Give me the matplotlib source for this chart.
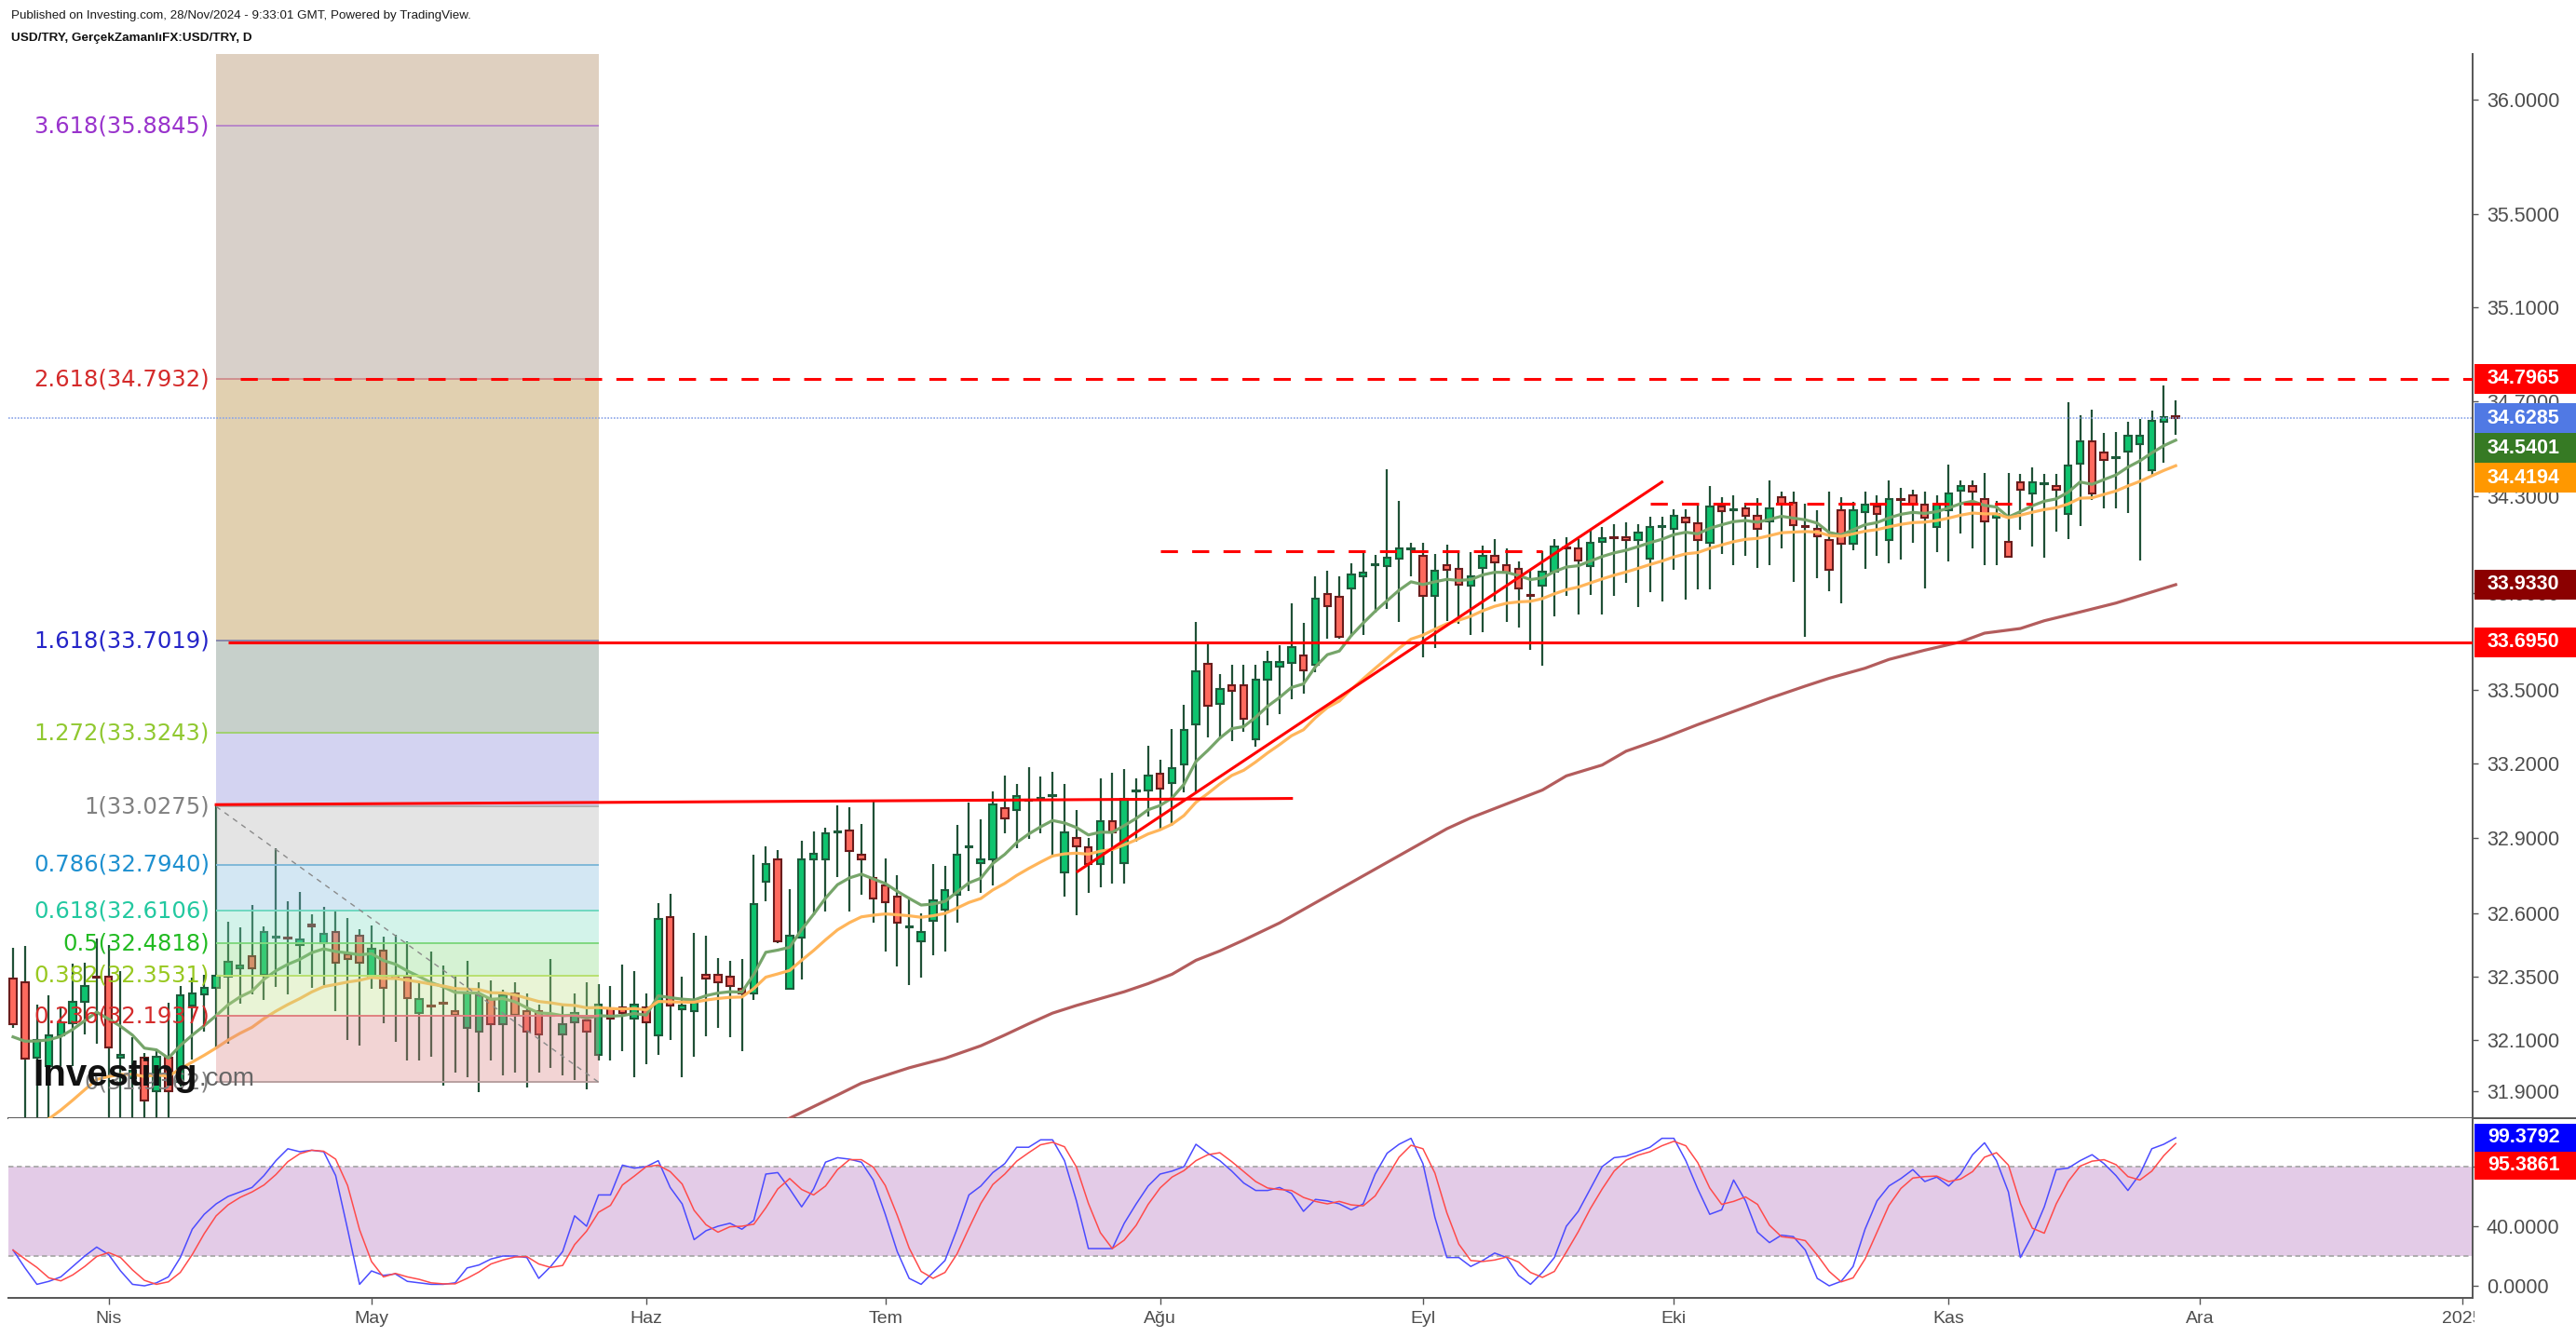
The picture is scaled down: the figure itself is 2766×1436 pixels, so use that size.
import matplotlib
matplotlib.use("Agg")
import matplotlib.pyplot as plt
import numpy as np
import pandas as pd
from matplotlib.patches import Rectangle
from matplotlib.lines import Line2D
from matplotlib.colors import to_rgb
from matplotlib.ticker import FixedLocator, NullLocator, NullFormatter, FormatStrFormatter

plt.rcParams['font.family'] = ['Liberation Sans', 'DejaVu Sans']

W, H = 2766, 1436

# USD/TRY daily bars, one per weekday, 20 Mar 2024 .. 28 Nov 2024
opens = [
    32.342, 32.327, 32.03, 31.999, 32.12, 32.165, 32.252, 32.35, 32.348, 32.03,
    31.95, 32.03, 31.90, 32.03, 31.937, 32.236, 32.28, 32.305, 32.348, 32.384,
    32.431, 32.357, 32.505, 32.503, 32.474, 32.554, 32.48, 32.527, 32.439, 32.513,
    32.348, 32.452, 32.354, 32.348, 32.206, 32.235, 32.247, 32.214, 32.147, 32.134,
    32.26, 32.163, 32.282, 32.214, 32.214, 32.198, 32.124, 32.171, 32.177, 32.044,
    32.223, 32.23, 32.184, 32.23, 32.118, 32.587, 32.221, 32.214, 32.356, 32.356,
    32.35, 32.303, 32.282, 32.727, 32.816, 32.303, 32.505, 32.816, 32.816, 32.925,
    32.932, 32.833, 32.742, 32.713, 32.667, 32.543, 32.489, 32.572, 32.615, 32.673,
    32.864, 32.801, 32.816, 33.019, 33.012, 33.051, 33.057, 33.069, 32.764, 32.9,
    32.862, 32.795, 32.968, 32.801, 33.09, 33.092, 33.161, 33.123, 33.198, 33.361,
    33.608, 33.444, 33.519, 33.519, 33.301, 33.543, 33.595, 33.61, 33.642, 33.604,
    33.896, 33.882, 33.918, 33.967, 34.012, 34.011, 34.042, 34.08, 34.052, 33.888,
    34.014, 33.997, 33.927, 34.004, 34.052, 34.014, 33.997, 33.892, 33.927, 33.988,
    34.086, 34.082, 34.011, 34.11, 34.129, 34.129, 34.119, 34.042, 34.172, 34.165,
    34.213, 34.188, 34.107, 34.259, 34.244, 34.25, 34.218, 34.194, 34.296, 34.273,
    34.178, 34.163, 34.118, 34.244, 34.101, 34.233, 34.259, 34.117, 34.289, 34.305,
    34.266, 34.172, 34.241, 34.325, 34.344, 34.289, 34.211, 34.11, 34.358, 34.311,
    34.352, 34.344, 34.227, 34.436, 34.532, 34.484, 34.462, 34.489, 34.52, 34.41,
    34.614, 34.637]
highs = [
    32.462, 32.471, 32.24, 32.276, 32.233, 32.40, 32.404, 32.499, 32.474, 32.371,
    32.112, 32.05, 32.063, 32.245, 32.313, 32.344, 32.357, 33.036, 32.566, 32.544,
    32.632, 32.55, 32.86, 32.647, 32.684, 32.597, 32.625, 32.61, 32.581, 32.536,
    32.552, 32.507, 32.515, 32.49, 32.322, 32.447, 32.393, 32.35, 32.41, 32.329,
    32.335, 32.298, 32.329, 32.282, 32.239, 32.418, 32.239, 32.282, 32.328, 32.319,
    32.313, 32.396, 32.372, 32.285, 32.64, 32.677, 32.35, 32.521, 32.513, 32.424,
    32.41, 32.418, 32.834, 32.869, 32.854, 32.698, 32.891, 32.928, 32.943, 33.033,
    33.026, 32.959, 33.053, 32.819, 32.751, 32.661, 32.601, 32.798, 32.789, 32.953,
    33.043, 32.976, 33.087, 33.154, 33.117, 33.186, 33.148, 33.168, 33.117, 33.012,
    32.901, 33.14, 33.162, 33.177, 33.14, 33.274, 33.217, 33.341, 33.438, 33.78,
    33.693, 33.565, 33.603, 33.603, 33.603, 33.661, 33.684, 33.854, 33.777, 33.969,
    33.991, 33.969, 34.023, 34.069, 34.055, 34.415, 34.283, 34.106, 34.106, 34.061,
    34.10, 34.075, 34.068, 34.093, 34.123, 34.084, 34.031, 33.995, 34.072, 34.123,
    34.129, 34.123, 34.161, 34.174, 34.183, 34.191, 34.183, 34.215, 34.215, 34.245,
    34.245, 34.267, 34.345, 34.298, 34.306, 34.273, 34.292, 34.367, 34.321, 34.321,
    34.27, 34.244, 34.321, 34.298, 34.276, 34.321, 34.306, 34.367, 34.337, 34.328,
    34.321, 34.306, 34.432, 34.367, 34.367, 34.399, 34.283, 34.399, 34.393, 34.423,
    34.393, 34.393, 34.695, 34.643, 34.665, 34.565, 34.572, 34.612, 34.627, 34.659,
    34.768, 34.706]
lows = [
    32.147, 31.78, 31.78, 31.78, 32.0, 32.0, 32.122, 32.085, 31.78, 31.78,
    31.78, 31.78, 31.78, 31.78, 31.92, 32.023, 32.134, 32.073, 32.087, 32.242,
    32.28, 32.258, 32.31, 32.28, 32.359, 32.307, 32.317, 32.215, 32.10, 32.079,
    32.301, 32.168, 32.094, 32.021, 32.021, 32.036, 31.924, 31.974, 31.954, 31.896,
    32.019, 31.961, 31.974, 31.917, 31.974, 31.991, 31.961, 31.945, 31.908, 32.02,
    32.019, 32.056, 31.954, 32.005, 32.042, 32.101, 31.954, 32.035, 32.116, 32.147,
    32.11, 32.056, 32.258, 32.649, 32.48, 32.303, 32.338, 32.591, 32.606, 32.745,
    32.606, 32.673, 32.562, 32.45, 32.39, 32.315, 32.347, 32.435, 32.45, 32.562,
    32.688, 32.68, 32.711, 32.92, 32.86, 32.897, 32.92, 32.823, 32.667, 32.593,
    32.68, 32.702, 32.717, 32.717, 32.888, 32.987, 32.934, 32.951, 33.084, 33.084,
    33.307, 33.299, 33.292, 33.33, 33.268, 33.356, 33.402, 33.463, 33.486, 33.572,
    33.71, 33.71, 33.717, 33.726, 33.818, 33.832, 33.779, 33.967, 33.632, 33.67,
    33.783, 33.77, 33.726, 33.738, 33.863, 33.779, 33.755, 33.664, 33.601, 33.802,
    33.886, 33.809, 33.892, 33.809, 33.886, 33.94, 33.841, 33.901, 33.864, 33.995,
    33.87, 33.913, 33.913, 34.059, 34.013, 34.052, 34.004, 34.013, 34.084, 33.943,
    33.718, 33.958, 33.904, 33.857, 34.075, 33.997, 34.053, 34.021, 34.036, 34.107,
    33.919, 34.069, 34.03, 34.146, 34.084, 34.013, 34.013, 34.047, 34.159, 34.091,
    34.043, 34.153, 34.123, 34.176, 34.286, 34.252, 34.252, 34.229, 34.033, 34.392,
    34.44, 34.558]
closes = [
    32.164, 32.028, 32.10, 32.12, 32.169, 32.252, 32.311, 32.346, 32.073, 32.042,
    31.98, 31.865, 32.036, 31.90, 32.276, 32.283, 32.305, 32.354, 32.408, 32.394,
    32.384, 32.526, 32.507, 32.50, 32.496, 32.55, 32.52, 32.406, 32.421, 32.406,
    32.459, 32.304, 32.341, 32.266, 32.26, 32.231, 32.243, 32.20, 32.282, 32.276,
    32.163, 32.276, 32.20, 32.134, 32.124, 32.195, 32.163, 32.208, 32.134, 32.239,
    32.184, 32.206, 32.239, 32.171, 32.579, 32.237, 32.237, 32.245, 32.342, 32.326,
    32.311, 32.282, 32.638, 32.795, 32.489, 32.511, 32.816, 32.838, 32.918, 32.929,
    32.849, 32.816, 32.661, 32.646, 32.564, 32.547, 32.527, 32.652, 32.691, 32.833,
    32.868, 32.816, 33.034, 32.98, 33.071, 33.055, 33.061, 33.073, 32.922, 32.869,
    32.795, 32.968, 32.922, 33.059, 33.094, 33.154, 33.10, 33.183, 33.338, 33.578,
    33.435, 33.503, 33.496, 33.384, 33.541, 33.613, 33.613, 33.674, 33.582, 33.876,
    33.843, 33.719, 33.976, 33.982, 34.016, 34.043, 34.082, 34.084, 33.888, 33.991,
    33.995, 33.933, 33.967, 34.052, 34.027, 33.982, 33.918, 33.888, 33.988, 34.091,
    34.082, 34.033, 34.106, 34.127, 34.125, 34.119, 34.151, 34.174, 34.176, 34.219,
    34.19, 34.117, 34.259, 34.24, 34.248, 34.218, 34.163, 34.25, 34.27, 34.179,
    34.174, 34.133, 33.993, 34.101, 34.244, 34.266, 34.227, 34.289, 34.285, 34.266,
    34.211, 34.266, 34.312, 34.344, 34.319, 34.194, 34.227, 34.047, 34.328, 34.358,
    34.356, 34.328, 34.429, 34.532, 34.311, 34.451, 34.466, 34.554, 34.554, 34.618,
    34.633, 34.6285]

# Stoch RSI %K of the lower pane (one value per bar)
stoch_k = [
    24, 12, 1, 3, 6, 13, 20, 26, 21, 10,
    1, 0, 2, 6, 19, 38, 48, 55, 60, 63,
    66, 74, 84, 92, 90, 91, 90, 74, 38, 1,
    10, 7, 8, 3, 2, 1, 1, 2, 12, 14,
    18, 20, 20, 19, 5, 13, 23, 47, 40, 61,
    61, 81, 79, 80, 84, 66, 55, 31, 37, 40,
    42, 38, 44, 75, 76, 65, 53, 65, 83, 86,
    85, 83, 71, 48, 23, 5, 1, 9, 17, 38,
    61, 67, 76, 82, 93, 93, 98, 98, 84, 57,
    25, 25, 25, 42, 55, 67, 75, 77, 80, 95,
    89, 84, 77, 69, 64, 64, 66, 62, 50, 58,
    57, 55, 51, 55, 75, 89, 95, 99, 82, 46,
    19, 19, 13, 17, 22, 19, 7, 1, 9, 19,
    40, 50, 65, 80, 86, 87, 90, 93, 99, 99,
    84, 65, 48, 51, 71, 57, 36, 29, 34, 33,
    24, 5, 0, 3, 13, 38, 57, 67, 72, 78,
    70, 73, 67, 75, 88, 96, 84, 63, 19, 34,
    53, 78, 79, 84, 88, 82, 74, 64, 75, 92,
    95, 99.3792]

# long moving average, read at these bars
long_ma_idx = [62, 65, 69, 71, 75, 78, 81, 83, 85, 87, 89, 91, 93, 95, 97, 99, 101, 103, 106,
               120, 122, 125, 128, 130, 133, 135, 138, 141, 147, 150, 152, 155, 157, 160,
               163, 165, 168, 170, 173, 176, 181]
long_ma_val = [31.73, 31.796, 31.886, 31.932, 31.992, 32.029, 32.078, 32.12, 32.164, 32.206,
               32.236, 32.263, 32.29, 32.322, 32.359, 32.414, 32.451, 32.494, 32.562,
               32.938, 32.982, 33.038, 33.094, 33.151, 33.195, 33.251, 33.302, 33.359,
               33.466, 33.516, 33.548, 33.589, 33.625, 33.663, 33.697, 33.733, 33.752,
               33.784, 33.82, 33.857, 33.933]
ema_fast_seed, ema_slow_seed = 32.10, 31.65

# fibonacci extension drawn from bar 17 to bar 49
fib_ratio = [0, 0.236, 0.382, 0.5, 0.618, 0.786, 1, 1.272, 1.618, 2.618, 3.618, 4.236]
fib_price = [31.9362, 32.1937, 32.3531, 32.4818, 32.6106, 32.7940, 33.0275, 33.3243,
             33.7019, 34.7932, 35.8845, 36.5637]
fib_band = ['#f2d4d4', '#e9f4d6', '#d5f2d3', '#d3f3ea', '#d3e8f3', '#e4e4e4', '#d3d3f1',
            '#c7d0cb', '#e1d0b0', '#d8d0ca', '#e0d0c0']
fib_line = ['#b8a0a0', '#e08080', '#b8e070', '#80d880', '#70d8c0', '#80b8d8', '#b0b0b0',
            '#a0d070', '#8888aa', '#d09090', '#b888c8']
fib_text = ['#808080', '#d42a2a', '#98c820', '#22bb22', '#22c8a0', '#1e90d0', '#808080',
            '#90c830', '#2424c8', '#d42a2a', '#9933cc']

month_tr = ["Oca", "Şub", "Mar", "Nis", "May", "Haz", "Tem", "Ağu", "Eyl", "Eki", "Kas", "Ara"]

tag_main = [34.7965, 34.6285, 34.5401, 34.4194, 33.9330, 33.6950]
tag_main_col = ['#ff0000', '#5079e4', '#367a24', '#ff9800', '#8b0000', '#ff0000']
tag_stoch = [99.3792, 95.3861]
tag_stoch_col = ['#0000ff', '#ff0000']

n = len(closes)
x = np.arange(n)
days = pd.bdate_range("2024-03-20", periods=n)


def ema(vals, span, seed):
    a = 2.0 / (span + 1)
    out, prev = [], seed
    for v in vals:
        prev = prev + a * (v - prev)
        out.append(prev)
    return out


def under_glass(hex_color, alpha):
    # colour that shows as hex_color once laid over white with this alpha
    t = np.array(to_rgb(hex_color))
    return tuple(np.clip(1 - (1 - t) / alpha, 0, 1))


fig = plt.figure(figsize=(W / 100, H / 100), dpi=100, facecolor='white')
ax = fig.add_axes([9 / W, 1 - 1201 / H, (2655 - 9) / W, (1201 - 58) / H])
axs = fig.add_axes([9 / W, 1 - 1394 / H, (2655 - 9) / W, (1394 - 1201) / H], sharex=ax)

axis_col = '#555555'
for a in (ax, axs):
    for s in ('left', 'top'):
        a.spines[s].set_visible(False)
    for s in ('right', 'bottom'):
        a.spines[s].set_color(axis_col)
        a.spines[s].set_linewidth(1.4)
    a.yaxis.tick_right()

# ---- price pane
ax.set_yscale('log')
ax.set_ylim(31.796, 36.2008)
ax.set_xlim(-0.39, 205.85)

wick_col = '#1f5036'
ax.vlines(x, lows, highs, color=wick_col, lw=1.6, zorder=2)
for i in range(n):
    o, c = opens[i], closes[i]
    up = c >= o
    lo, hi = min(o, c), max(o, c)
    ax.add_patch(Rectangle((i - 0.29, lo), 0.58, max(hi - lo, 0.003),
                           facecolor='#0ec46f' if up else '#ff6a5e',
                           edgecolor='#1d5b3b' if up else '#6b1c1c', lw=1.5, zorder=3))

ax.plot(x, ema(closes, 9, ema_fast_seed), color='#76a56a', lw=2.3, zorder=3.6)
ax.plot(x, ema(closes, 21, ema_slow_seed), color='#ffb55a', lw=2.3, zorder=3.6)
ax.plot(long_ma_idx, long_ma_val, color='#b35c5c', lw=2.3, zorder=3.6)

# fib bands laid over the candles
f0, f1 = 17, 49
alpha = 0.35
for k in range(len(fib_band)):
    ax.fill_between([f0, f1], fib_price[k], fib_price[k + 1],
                    color=under_glass(fib_band[k], alpha), alpha=alpha, lw=0, zorder=4)
for k in range(len(fib_line)):
    ax.hlines(fib_price[k], f0, f1, color=fib_line[k], lw=1.4, zorder=4.5)
    ax.text(f0 - 0.55, fib_price[k], f"{fib_ratio[k]:g}({fib_price[k]:.4f})", ha='right',
            va='center', fontsize=17.5, color=fib_text[k], family=['DejaVu Sans'], zorder=6)
ax.plot([f0, f1], [fib_price[6], fib_price[0]], color='#8a8a8a', lw=1.0, ls=(0, (4, 4)), zorder=5)

# drawn levels and trend lines
dash = (0, (6, 5))
ax.hlines(34.6285, -0.39, 205.85, color='#8aa4e8', lw=1.2, ls=(0, (1, 1)), zorder=5)
ax.hlines(34.7965, 19, 205.85, color='#ff0000', lw=2.2, ls=dash, zorder=6)
ax.hlines(33.6950, 18, 205.85, color='#ff0000', lw=2.2, zorder=6)
ax.hlines(34.07, 96, 128, color='#ff0000', lw=2.2, ls=dash, zorder=6)
ax.hlines(34.27, 137, 169, color='#ff0000', lw=2.2, ls=dash, zorder=6)
ax.plot([17, 107], [33.035, 33.06], color='#ff0000', lw=2.2, zorder=6)
ax.plot([89.1, 138.0], [32.767, 34.36], color='#ff0000', lw=2.2, zorder=6)

ax.yaxis.set_major_locator(FixedLocator([31.9, 32.1, 32.35, 32.6, 32.9, 33.2, 33.5, 33.9,
                                         34.3, 34.7, 35.1, 35.5, 36.0]))
ax.yaxis.set_minor_locator(NullLocator())
ax.yaxis.set_major_formatter(FormatStrFormatter('%.4f'))
ax.yaxis.set_minor_formatter(NullFormatter())
ax.tick_params(axis='y', direction='out', length=4.3, width=1, color=axis_col,
               labelsize=15.5, labelcolor='#4d4d4d', pad=6.5)
ax.tick_params(axis='x', which='both', bottom=False, labelbottom=False)

# ---- stochastic pane
axs.set_ylim(-8.1, 112.5)
axs.axhspan(20, 80, color='#e3cbe7', lw=0, zorder=1)
for lvl in (20, 80):
    axs.axhline(lvl, color='#a8a8a8', lw=1.3, ls=(0, (3, 2)), zorder=2)
k_line = pd.Series(stoch_k, dtype=float)
d_line = k_line.rolling(3, min_periods=1).mean()
axs.plot(x, k_line, color='#4b4bff', lw=1.1, zorder=3)
axs.plot(x, d_line, color='#ff4b4b', lw=1.1, zorder=3)
axs.yaxis.set_major_locator(FixedLocator([0, 40, 80]))
axs.yaxis.set_major_formatter(FormatStrFormatter('%.4f'))
axs.tick_params(axis='y', direction='out', length=4.3, width=1, color=axis_col,
                labelsize=15.5, labelcolor='#4d4d4d', pad=6.5)

axis_days = pd.bdate_range("2024-03-20", "2025-01-10")
pos, lab = [], []
for j in range(1, len(axis_days)):
    if axis_days[j].month != axis_days[j - 1].month:
        pos.append(j)
        m = axis_days[j].month
        lab.append(str(axis_days[j].year) if m == 1 else month_tr[m - 1])
axs.set_xticks(pos)
axs.set_xticklabels(lab)
axs.tick_params(axis='x', direction='out', length=5, width=1, color=axis_col,
                labelsize=14, labelcolor='#4d4d4d', pad=5)
axs.set_xlim(-0.39, 205.85)

# separator runs under the price scale too
fig.add_artist(Line2D([2655 / W, 1], [1 - 1201 / H] * 2, color=axis_col, lw=1.4))
fig.add_artist(Rectangle((2656.5 / W, 0), (W - 2656.5) / W, 40 / H,
                         transform=fig.transFigure, color='white', zorder=5))


def price_tags(axis, values, colors, h):
    prev = None
    for v, col in sorted(zip(values, colors), key=lambda t: -t[0]):
        y = axis.transData.transform((0, v))[1]
        if prev is not None and y > prev - h:
            y = prev - h
        prev = y
        fig.add_artist(Rectangle((2657 / W, (y - h / 2) / H), (W - 2657) / W, h / H,
                                 transform=fig.transFigure, facecolor=col,
                                 edgecolor='none', zorder=20))
        fig.text(2671 / W, y / H, f"{v:.4f}", color='white', fontsize=15.5,
                 fontweight='bold', va='center', ha='left', zorder=21)


price_tags(ax, tag_main, tag_main_col, 32)
price_tags(axs, tag_stoch, tag_stoch_col, 30)

# header and watermark
fig.text(12 / W, 1 - 17 / H,
         "Published on Investing.com, 28/Nov/2024 - 9:33:01 GMT, Powered by TradingView.",
         fontsize=9.6, va='center', color='#1a1a1a')
fig.text(12 / W, 1 - 41 / H, "USD/TRY, GerçekZamanlıFX:USD/TRY, D",
         fontsize=9.7, fontweight='bold', va='center', color='#111111')
fig.text(35 / W, 1 - 1166 / H, "Investing", fontsize=29, fontweight='bold',
         color='#111111', va='baseline', zorder=30)
fig.text(213 / W, 1 - 1166 / H, ".com", fontsize=20, color='#666666',
         va='baseline', zorder=30)

fig.savefig("out.png", dpi=100, facecolor='white')
